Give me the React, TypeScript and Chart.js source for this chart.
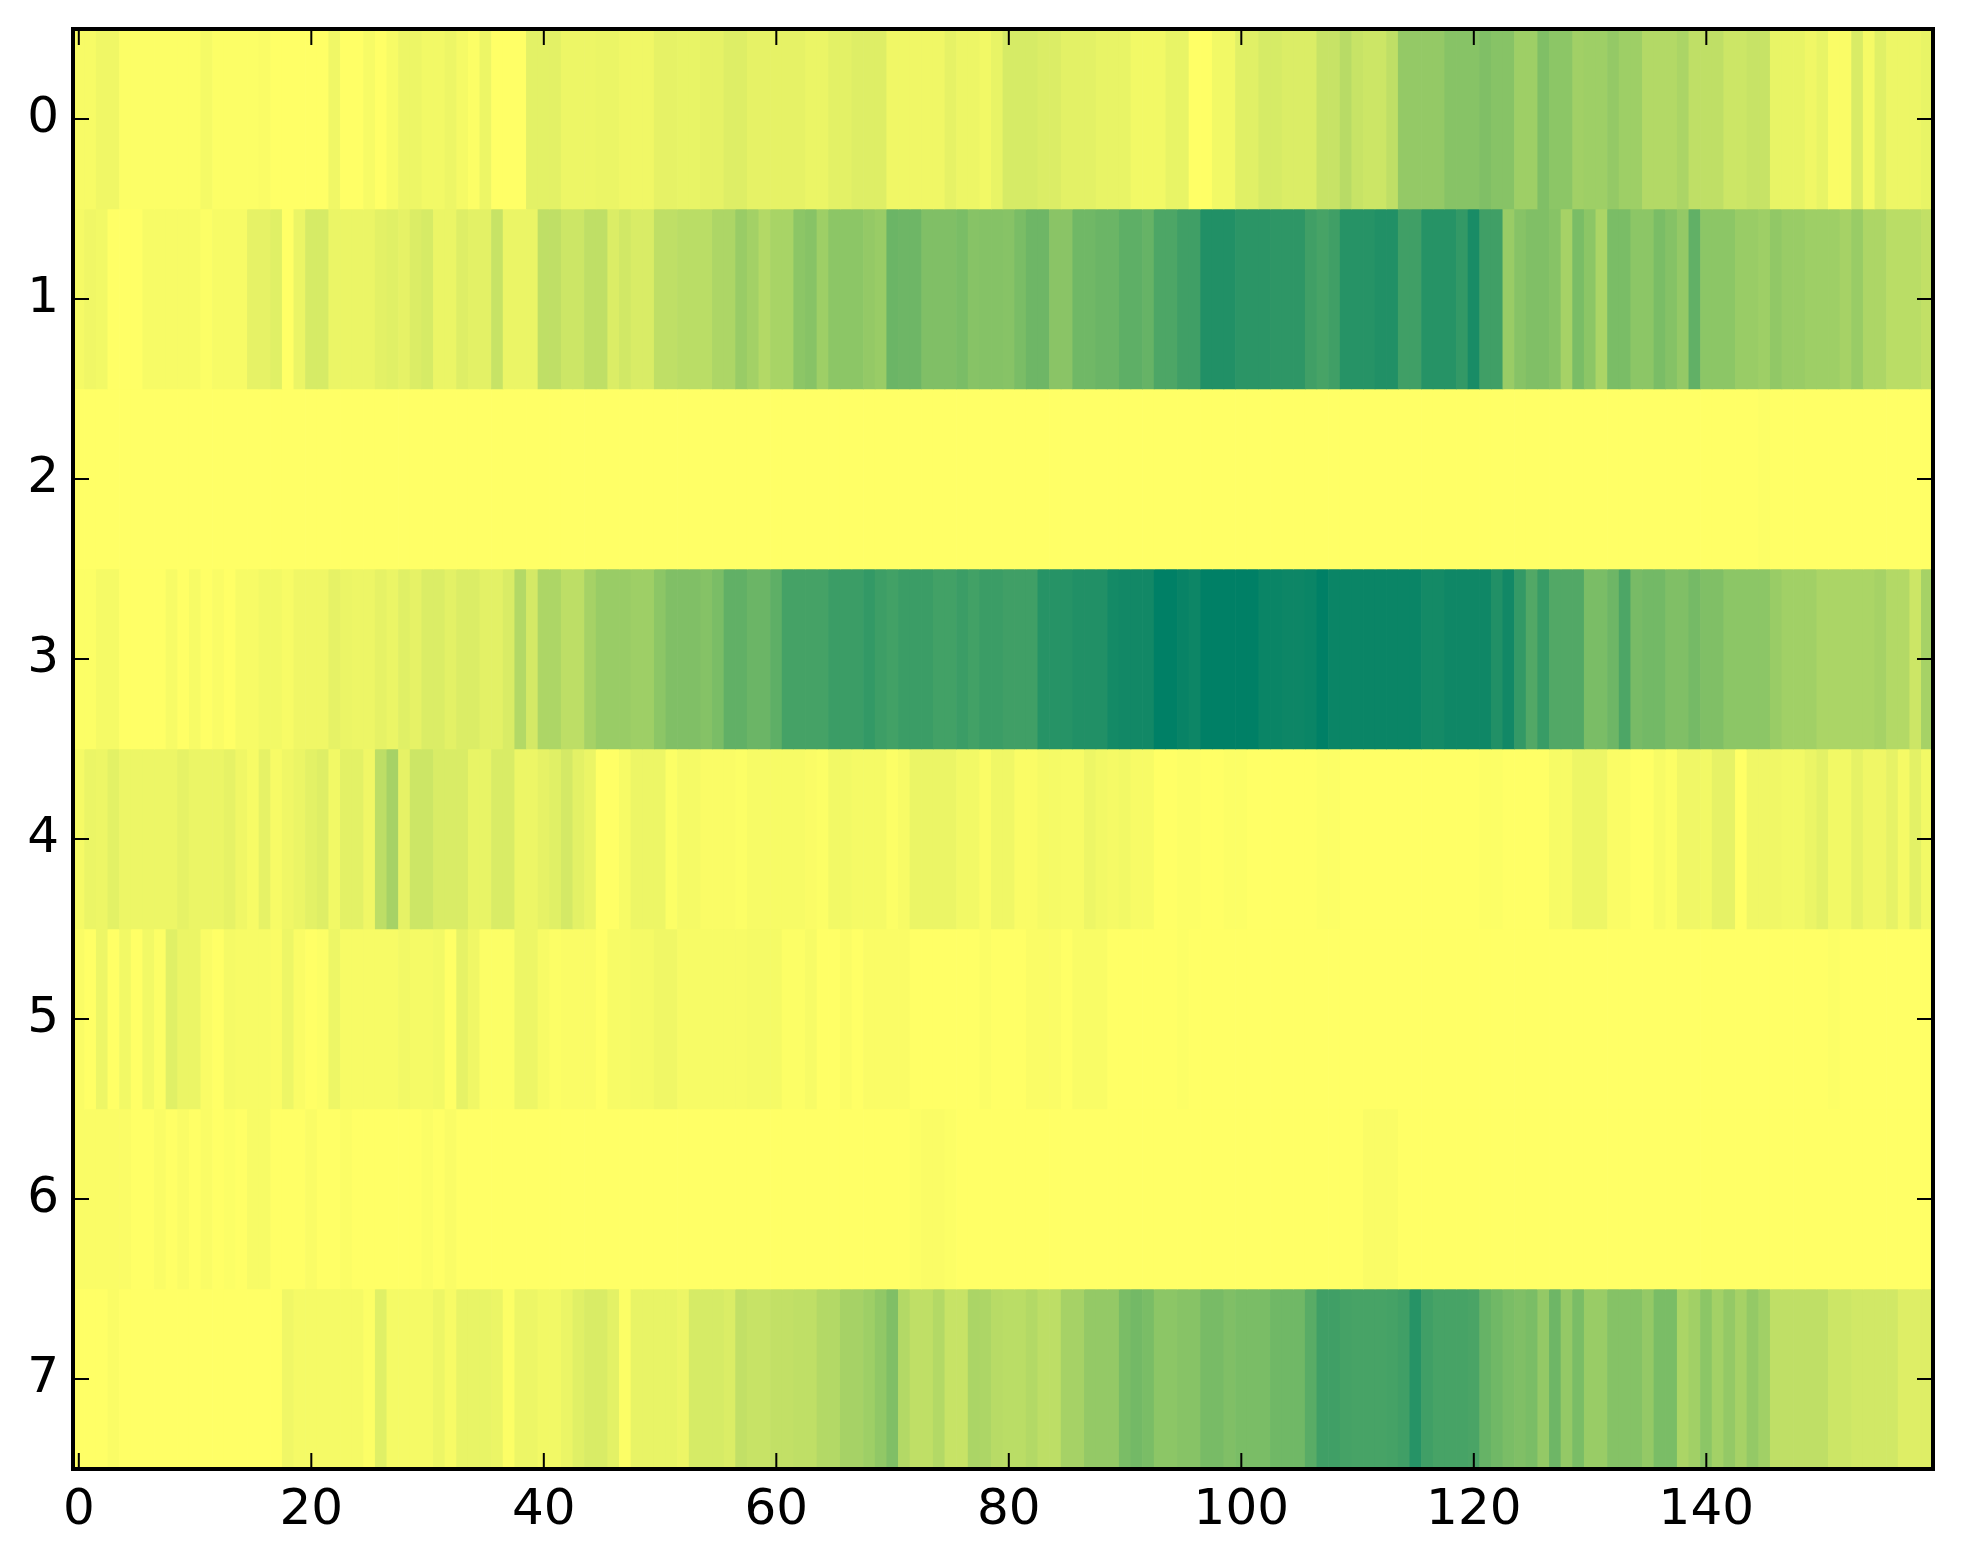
import React, { useEffect, useRef } from "react";
import { Chart, registerables } from "chart.js";

Chart.register(...registerables);

const xTickValues = [0, 20, 40, 60, 80, 100, 120, 140];
const yTickValues = [0, 1, 2, 3, 4, 5, 6, 7];

const row0 = [
  .03,.03,.06,.06,.01,.01,.01,.01,.01,.01,
  .01,.04,.01,.01,.01,.01,.02,0,0,0,
  0,0,.06,0,0,.03,0,.03,.07,.07,
  .05,.05,.07,.04,.01,.07,0,0,0,.11,
  .11,.11,.07,.07,.07,.08,.08,.06,.06,.06,
  .1,.1,.09,.09,.1,.1,.13,.13,.1,.1,
  .1,.1,.1,.08,.08,.11,.11,.13,.13,.13,
  .06,.06,.06,.06,.06,.1,.07,.07,.05,.09,
  .16,.16,.16,.14,.14,.11,.11,.11,.09,.09,
  .09,.05,.05,.05,.09,.09,0,0,.05,.05,
  .12,.12,.16,.16,.14,.14,.14,.22,.22,.28,
  .22,.2,.2,.25,.42,.42,.42,.42,.47,.47,
  .47,.5,.47,.47,.38,.38,.5,.45,.45,.37,
  .38,.38,.42,.38,.38,.3,.3,.3,.33,.25,
  .25,.25,.2,.2,.22,.22,.09,.09,.09,.06,
  .09,.02,.02,.15,.04,.12,.07,.07,.07,.09,
];
const row1 = [
  .04,.06,.05,0,0,0,.03,.03,.03,.03,
  .03,.01,.03,.03,.03,.1,.1,.12,0,.08,
  .16,.16,.08,.08,.08,.08,.11,.12,.1,.14,
  .16,.08,.08,.13,.11,.11,.22,.08,.08,.08,
  .25,.25,.2,.2,.25,.25,.14,.18,.15,.15,
  .25,.25,.27,.27,.27,.32,.32,.4,.36,.3,
  .34,.34,.45,.47,.38,.45,.45,.45,.42,.4,
  .58,.57,.57,.5,.5,.5,.52,.47,.48,.48,
  .47,.52,.57,.57,.46,.46,.56,.56,.58,.58,
  .63,.63,.6,.7,.7,.75,.75,.87,.87,.87,
  .83,.83,.83,.82,.82,.82,.75,.72,.75,.85,
  .85,.85,.87,.87,.75,.75,.85,.85,.85,.8,
  .9,.75,.75,.4,.47,.5,.5,.47,.35,.52,
  .45,.33,.52,.52,.45,.45,.52,.48,.42,.62,
  .45,.45,.45,.4,.4,.38,.43,.4,.4,.38,
  .38,.38,.35,.4,.32,.32,.27,.27,.27,.24,
];
const row2 = [
  0,0,0,0,0,0,0,0,0,0, 0,0,0,0,0,0,0,0,0,0,
  0,0,0,0,0,0,0,0,0,0, 0,0,0,0,0,0,0,0,0,0,
  0,0,0,0,0,0,0,0,0,0, 0,0,0,0,0,0,0,0,0,0,
  0,0,0,0,0,0,0,0,0,0, 0,0,0,0,0,0,0,0,0,0,
  0,0,0,0,0,0,0,0,0,0, 0,0,0,0,0,0,0,0,0,0,
  0,0,0,0,0,0,0,0,0,0, 0,0,0,0,0,0,0,0,0,0,
  0,0,0,0,0,0,0,0,0,0, 0,0,0,0,0,0,0,0,0,0,
  0,0,0,0,0,.01,0,0,0,0, 0,0,0,0,0,0,0,0,0,0,
];
const row3 = [
  .01,.01,.04,.04,0,0,0,0,.03,0,
  .03,0,.02,0,.03,.03,.05,.05,.03,.06,
  .06,.06,.1,.08,.07,.07,.1,.08,.12,.1,
  .14,.14,.11,.14,.14,.11,.11,.15,.3,.17,
  .32,.32,.26,.26,.35,.4,.4,.4,.38,.38,
  .45,.5,.5,.5,.48,.52,.62,.62,.58,.58,
  .63,.73,.73,.73,.73,.77,.77,.77,.8,.76,
  .74,.77,.77,.77,.74,.74,.77,.74,.77,.77,
  .75,.75,.75,.85,.85,.85,.87,.87,.87,.92,
  .93,.93,.93,1,1,.97,.95,1,1,1,
  1,1,.96,.96,.95,.95,.96,1,.96,.96,
  .96,.96,.96,.96,.96,.96,.92,.92,.94,.94,
  .94,.94,.87,.93,.8,.68,.78,.68,.68,.68,
  .52,.52,.57,.7,.53,.55,.55,.5,.5,.54,
  .5,.5,.45,.45,.45,.45,.4,.37,.37,.37,
  .33,.33,.33,.33,.33,.35,.3,.3,.2,.35,
];
const row4 = [
  .04,.08,.07,.11,.07,.07,.07,.07,.07,.1,
  .08,.08,.08,.1,.06,.03,.1,.03,.06,.08,
  .11,.13,.05,.11,.11,.06,.26,.35,.1,.2,
  .2,.15,.15,.15,.09,.09,.15,.15,.07,.07,
  .1,.12,.17,.11,.08,0,0,.03,.07,.07,
  .07,.01,.04,.04,.02,.02,.02,.01,.03,.03,
  .03,.03,.03,.02,.01,.05,.05,.04,.04,.04,
  .01,.03,.08,.08,.08,.08,.05,.05,.02,.06,
  .06,.02,.02,.04,.04,.03,.03,.07,.05,.04,
  .05,.03,.03,0,0,.01,.01,0,0,.01,
  .01,0,0,0,0,0,0,.01,.01,0,
  0,0,0,0,0,0,0,0,0,0,
  0,.01,.01,0,0,0,0,.03,.03,.07,
  .07,.07,.02,.02,0,0,.03,.01,.06,.06,
  .05,.1,.1,0,.06,.06,.06,.05,.05,.08,
  .11,.05,.05,.1,.06,.06,.1,.04,.11,.05,
];
const row5 = [
  .02,0,.07,0,.05,0,.05,.01,.12,.08,
  .08,.02,0,.04,.03,.03,.03,.02,.07,.02,
  0,.01,.07,.03,.03,.03,.03,.03,.05,.04,
  .04,.05,0,.1,.06,.01,.01,.01,.07,.07,
  .03,.01,.02,.02,.02,0,.03,.03,.04,.04,
  .06,.06,.03,.03,.03,.03,.03,.03,.04,.04,
  .04,.01,.01,.03,0,0,.02,0,.02,.02,
  .02,.02,0,0,0,0,0,0,.015,0,
  0,0,.02,.02,.02,0,.025,.025,.025,0,
  0,0,0,0,0,.01,0,0,0,0,
  0,0,0,0,0,0,0,0,0,0, 0,0,0,0,0,0,0,0,0,0,
  0,0,0,0,0,0,0,0,0,0, 0,0,0,0,0,0,0,0,0,0,
  0,0,0,0,0,0,0,0,0,0, 0,.01,0,0,0,0,0,0,0,0,
];
const row6 = [
  .02,.02,.02,.02,.02,0,0,.02,0,.02,
  0,.02,0,.01,0,.03,.03,0,0,0,
  .02,0,0,.015,0,0,0,0,0,0,
  .015,0,.02,0,0,0,0,0,0,0,
  0,0,0,0,0,0,0,0,0,0, 0,0,0,0,0,0,0,0,0,0,
  0,0,0,0,0,0,0,0,0,0,
  0,0,.01,.02,.02,.01,0,0,0,0,
  0,0,0,0,0,0,0,0,0,0, 0,0,0,0,0,0,0,0,0,0,
  0,0,0,0,0,0,0,0,0,0,
  0,.02,.02,.02,0,0,0,0,0,0,
  0,0,0,0,0,0,0,0,0,0, 0,0,0,0,0,0,0,0,0,0,
  0,0,0,0,0,0,0,0,0,0, 0,0,0,0,0,0,0,0,0,0,
];
const row7 = [
  0,0,0,.02,0,0,0,0,0,0,
  0,0,0,0,0,0,0,0,.06,.04,
  .04,.04,.04,.04,.04,.01,.12,.04,.04,.04,
  .04,.07,.03,.09,.09,.09,.08,.01,.07,.07,
  .05,.05,.08,.12,.15,.15,.11,.01,.09,.09,
  .09,.09,.07,.16,.16,.16,.14,.24,.22,.22,
  .24,.24,.25,.25,.3,.3,.35,.35,.38,.43,
  .5,.3,.25,.25,.3,.22,.22,.33,.32,.28,
  .27,.27,.3,.26,.26,.35,.35,.42,.42,.42,
  .52,.55,.52,.45,.45,.47,.47,.53,.53,.5,
  .52,.52,.52,.56,.56,.56,.65,.75,.75,.73,
  .72,.72,.72,.73,.75,.85,.75,.72,.72,.72,
  .71,.6,.56,.52,.5,.52,.42,.57,.42,.52,
  .4,.4,.48,.48,.48,.42,.52,.52,.33,.37,
  .45,.36,.42,.35,.42,.37,.25,.25,.25,.25,
  .25,.2,.2,.18,.18,.18,.18,.13,.13,.13,
];
const rows = [row0, row1, row2, row3, row4, row5, row6, row7];

// matplotlib "summer_r" colormap
const summerR = (v: number) => {
  const t = 1 - v;
  return `rgb(${Math.round(255 * t)},${Math.round(255 * (0.5 + t / 2))},102)`;
};

const frame = {
  id: "frame",
  afterDraw(chart: any) {
    const { ctx, chartArea: a, scales } = chart;
    ctx.save();
    ctx.strokeStyle = "#000";
    ctx.lineWidth = 2;
    ctx.beginPath();
    for (const v of xTickValues) {
      const x = scales.x.getPixelForValue(v);
      ctx.moveTo(x, a.top);
      ctx.lineTo(x, a.top + 16);
      ctx.moveTo(x, a.bottom);
      ctx.lineTo(x, a.bottom - 16);
    }
    for (const v of yTickValues) {
      const y = scales.y.getPixelForValue(v);
      ctx.moveTo(a.left, y);
      ctx.lineTo(a.left + 16, y);
      ctx.moveTo(a.right, y);
      ctx.lineTo(a.right - 16, y);
    }
    ctx.stroke();
    ctx.lineWidth = 4;
    ctx.strokeRect(a.left, a.top, a.right - a.left, a.bottom - a.top);
    ctx.restore();
  },
};

const noPadding = (s: any) => {
  s.paddingTop = 0;
  s.paddingBottom = 0;
  s.paddingLeft = 0;
  s.paddingRight = 0;
};

export default function App() {
  const ref = useRef<HTMLCanvasElement>(null);
  useEffect(() => {
    const font = { family: "DejaVu Sans", size: 50 };
    const chart = new Chart(ref.current!, {
      type: "bar",
      data: {
        datasets: rows.map((row, r) => ({
          label: String(r),
          data: row.map((_, i) => ({ x: i, y: [r - 0.5, r + 0.5] })) as any,
          backgroundColor: row.map(summerR),
          borderWidth: 0,
          barPercentage: 1,
          categoryPercentage: 1,
          grouped: false,
        })),
      },
      options: {
        animation: false,
        responsive: false,
        devicePixelRatio: 1,
        layout: { padding: { left: 0, top: 29, right: 30, bottom: 0 } },
        plugins: { legend: { display: false }, tooltip: { enabled: false } },
        scales: {
          x: {
            type: "linear",
            offset: false,
            min: -0.5,
            max: 159.5,
            grid: { display: false, drawTicks: false },
            border: { display: false },
            ticks: { font, color: "#000", padding: 12, maxRotation: 0, autoSkip: false },
            afterBuildTicks: (s: any) => {
              s.ticks = xTickValues.map((value) => ({ value }));
            },
            afterFit: (s: any) => {
              s.height = 95;
              noPadding(s);
            },
          },
          y: {
            type: "linear",
            reverse: true,
            min: -0.5,
            max: 7.5,
            grid: { display: false, drawTicks: false },
            border: { display: false },
            ticks: { font, color: "#000", padding: 14, autoSkip: false },
            afterBuildTicks: (s: any) => {
              s.ticks = yTickValues.map((value) => ({ value }));
            },
            afterFit: (s: any) => {
              s.width = 73;
              noPadding(s);
            },
          },
        },
      },
      plugins: [frame],
    } as any);
    return () => chart.destroy();
  }, []);
  return (
    <div style={{ position: "absolute", left: 0, top: 0, width: 1963, height: 1564, background: "#fff" }}>
      <canvas ref={ref} width={1963} height={1564} style={{ display: "block", width: 1963, height: 1564 }} />
    </div>
  );
}
